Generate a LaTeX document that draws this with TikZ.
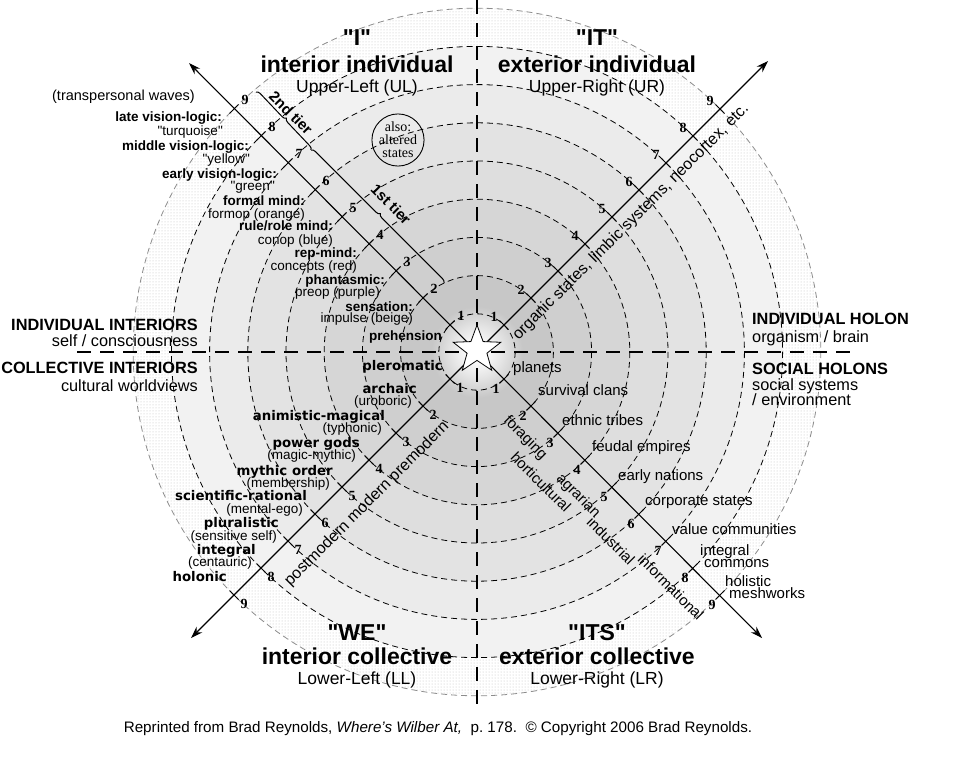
\documentclass[tikz,border=0pt]{standalone}
\usepackage{fontspec}
\setmainfont{Liberation Sans}[Ligatures=TeXOff]
\newfontfamily\serifnum{Liberation Serif}
\newfontfamily\dvs{DejaVu Sans}
\usetikzlibrary{arrows.meta,shapes.geometric,decorations.pathreplacing,patterns}
\newcommand\fsz[1]{\fontsize{#1}{#1}\selectfont}
\pgfdeclareradialshading{glow}{\pgfpoint{0bp}{0bp}}{color(0bp)=(white);color(3bp)=(white);color(12bp)=(black!10);color(22bp)=(black!22);color(50bp)=(black!22)}
\tikzset{
  ul/.style={inner sep=0pt, anchor=east, font=\fsz{13.5}, text height=9.7pt, text depth=2.7pt},
  ulb/.style={ul, font=\bfseries\fsz{13.5}},
  llb/.style={ul, font=\dvs\bfseries\fsz{13.3}},
  lr/.style={inner sep=0pt, anchor=west, font=\fsz{15}, text height=10.8pt, text depth=3pt},
  hdr/.style={inner sep=0pt, font=\bfseries\fsz{16.3}, text height=11.7pt, text depth=3.3pt},
  hsub/.style={inner sep=0pt, font=\fsz{16.3}, text height=11.7pt, text depth=3.3pt},
  ttl/.style={inner sep=0pt, font=\bfseries\fsz{23}},
  quad/.style={inner sep=0pt, font=\fsz{17.5}},
  num/.style={inner sep=0pt, font=\serifnum\bfseries\fsz{14}},
  rot/.style={inner sep=0pt, font=\fsz{16}},
  rotb/.style={inner sep=0pt, font=\fsz{15}},
  tierlab/.style={inner sep=0pt, font=\bfseries\fsz{15}, rotate=-45},
  ringd/.style={dash pattern=on 6pt off 4pt, line width=0.8pt},
  crossd/.style={dash pattern=on 14pt off 9pt, line width=2.2pt},
  axisl/.style={line width=1.1pt, -{Stealth[length=12pt,width=8pt]}},
  tickm/.style={line width=1pt},
  bracel/.style={decorate, decoration={brace, amplitude=4pt}, line width=1pt}
}
\begin{document}
\begin{tikzpicture}[x=1pt,y=-1pt]
\useasboundingbox (0,0) rectangle (960,768);
\coordinate (C) at (477,352);
% rings
\fill[white] (C) circle (343.8);
\fill[pattern=dots, pattern color=black!25] (C) circle (343.8);
\foreach \r/\s in {305.6/5,267.4/8,229.2/11,191/13,152.8/16,114.6/19,76.4/22}
  {\fill[black!\s] (C) circle (\r);}
\shade[shading=glow] (C) circle (52);
\foreach \k in {1,...,8} {\draw[ringd] (C) circle ({38.2*\k});}
\draw[ringd, black!45] (C) circle (343.8);
% cross lines
\coordinate (vt) at (477,0);
\coordinate (vb) at (477,705);
\coordinate (hl) at (77,352);
\coordinate (hr) at (853,352);
\draw[crossd] (vt) -- (vb);
\draw[crossd] (hl) -- (hr);
% axes
\coordinate (ULtip) at (189,63);
\coordinate (URtip) at (768,61);
\coordinate (LLtip) at (191,638);
\coordinate (LRtip) at (762,638);
\draw[axisl] (C) -- (ULtip);
\draw[axisl] (C) -- (URtip);
\draw[axisl] (C) -- (LLtip);
\draw[axisl] (C) -- (LRtip);
% ticks and numbers
\foreach \k in {1,...,9} {
  \coordinate (tUL\k) at ({477-27*\k},{352-27*\k});
  \coordinate (tUR\k) at ({477+27*\k},{352-27*\k});
  \coordinate (tLL\k) at ({477-27*\k},{352+27*\k});
  \coordinate (tLR\k) at ({477+27*\k},{352+27*\k});
  \draw[tickm] ([shift={(4.5,-4.5)}]tUL\k) -- ([shift={(-4.5,4.5)}]tUL\k);
  \draw[tickm] ([shift={(4.5,4.5)}]tUR\k) -- ([shift={(-4.5,-4.5)}]tUR\k);
  \draw[tickm] ([shift={(4.5,4.5)}]tLL\k) -- ([shift={(-4.5,-4.5)}]tLL\k);
  \draw[tickm] ([shift={(4.5,-4.5)}]tLR\k) -- ([shift={(-4.5,4.5)}]tLR\k);
  \node[num] (nUL\k) at ([shift={(11,-9)}]tUL\k) {\k};
  \node[num] (nUR\k) at ([shift={(-10,-8)}]tUR\k) {\k};
  \node[num] (nLL\k) at ([shift={(10,9)}]tLL\k) {\k};
  \node[num] (nLR\k) at ([shift={(-8,10)}]tLR\k) {\k};
}
% star
\node[star, star points=5, star point ratio=2.4, minimum size=50pt, inner sep=0pt, fill=white, draw, line width=0.8pt] (star) at (477,350) {};
% tier braces
\coordinate (tierA) at (256,92);
\coordinate (tierB) at (311,150);
\coordinate (tierC) at (444,283);
\draw[bracel] (tierA) -- (tierB);
\draw[bracel] (tierB) -- (tierC);
\node[tierlab] (t2) at (291,113) {2nd tier};
\node[tierlab] (t1) at (391,204) {1st tier};
\node[circle, draw, line width=0.9pt, minimum size=50pt, inner sep=0pt, align=center, font=\serifnum\fontsize{14}{13}\selectfont] (alt) at (398,140) {also:\\altered\\states};
% titles
\node[ttl] (tI) at (357,38) {"I"};
\node[ttl] (tIi) at (357,64) {interior individual};
\node[quad] (tUL) at (357,88) {Upper-Left (UL)};
\node[ttl] (tIT) at (597,38) {"IT"};
\node[ttl] (tITe) at (597,64) {exterior individual};
\node[quad] (tUR) at (597,88) {Upper-Right (UR)};
\node[ttl] (tWE) at (357,633) {"WE"};
\node[ttl] (tWEi) at (357,656) {interior collective};
\node[quad] (tLL) at (357,680) {Lower-Left (LL)};
\node[ttl] (tITS) at (597,633) {"ITS"};
\node[ttl] (tITSe) at (597,656) {exterior collective};
\node[quad] (tLR) at (597,680) {Lower-Right (LR)};
% side headers
\node[hdr, anchor=east] (indint) at (198,326) {INDIVIDUAL INTERIORS};
\node[hsub, anchor=east] (selfc) at (198,342) {self / consciousness};
\node[hdr, anchor=east] (colint) at (198,369) {COLLECTIVE INTERIORS};
\node[hsub, anchor=east] (cultw) at (198,387) {cultural worldviews};
\node[hdr, anchor=west] (indhol) at (752,320) {INDIVIDUAL HOLON};
\node[hsub, anchor=west] (organ) at (752,338) {organism / brain};
\node[hdr, anchor=west] (sochol) at (752,370) {SOCIAL HOLONS};
\node[hsub, anchor=west] (socsys) at (752,386) {social systems};
\node[hsub, anchor=west] (envir) at (752,401) {/ environment};
% UL labels
\node[ul, font=\fsz{14.5}] (trans) at (195,97) {(transpersonal waves)};
\node[ulb] (lvl) at (222,118) {late vision-logic:};
\node[ul] (turq) at (223,132) {"turquoise"};
\node[ulb] (mvl) at (249,147) {middle vision-logic:};
\node[ul] (yell) at (250,160) {"yellow"};
\node[ulb] (evl) at (277,175) {early vision-logic:};
\node[ul] (gree) at (275,187) {"green"};
\node[ulb] (form) at (305,202) {formal mind:};
\node[ul] (formop) at (305,215) {formop (orange)};
\node[ulb] (rule) at (333,227) {rule/role mind:};
\node[ul] (conop) at (333,241) {conop (blue)};
\node[ulb] (rep) at (357,254) {rep-mind:};
\node[ul] (conc) at (357,267) {concepts (red)};
\node[ulb] (phan) at (385,281) {phantasmic:};
\node[ul] (preop) at (380,293) {preop (purple)};
\node[ulb] (sens) at (413,308) {sensation:};
\node[ul] (impu) at (413,319) {impulse (beige)};
\node[ulb] (preh) at (442,337) {prehension};
% LL labels
\node[llb] (pler) at (443,367) {pleromatic};
\node[llb] (arch) at (417,390) {archaic};
\node[ul] (urob) at (412,402) {(uroboric)};
\node[llb] (anim) at (385,417) {animistic-magical};
\node[ul] (typh) at (382,429) {(typhonic)};
\node[llb] (powg) at (360,444) {power gods};
\node[ul] (magm) at (356,456) {(magic-mythic)};
\node[llb] (myth) at (333,472) {mythic order};
\node[ul] (memb) at (330,484) {(membership)};
\node[llb] (scie) at (307,497) {scientific-rational};
\node[ul] (ment) at (303,510) {(mental-ego)};
\node[llb] (plur) at (279,524) {pluralistic};
\node[ul] (sens2) at (277,537) {(sensitive self)};
\node[llb] (inte) at (256,551) {integral};
\node[ul] (cent) at (252,563) {(centauric)};
\node[llb] (holo) at (227,578) {holonic};
% LR labels
\node[lr] (plan) at (513,369) {planets};
\node[lr] (surv) at (538,392) {survival clans};
\node[lr] (ethn) at (562,422) {ethnic tribes};
\node[lr] (feud) at (592,448) {feudal empires};
\node[lr] (earl) at (618,477) {early nations};
\node[lr] (corp) at (645,502) {corporate states};
\node[lr] (valu) at (672,531) {value communities};
\node[lr] (intg) at (700,552) {integral};
\node[lr] (comm) at (704,564) {commons};
\node[lr] (holi) at (725,583) {holistic};
\node[lr] (mesh) at (729,595) {meshworks};
% rotated axis texts
\node[rot, rotate=45] (orgtxt) at (631,222) {organic states, limbic systems, neocortex, etc.};
\node[rot, rotate=45] (modtxt) at (367,504) {postmodern modern premodern};
\node[rotb, rotate=-45] (fora) at (525,438) {foraging};
\node[rotb, rotate=-45] (hort) at (541,482) {horticultural};
\node[rotb, rotate=-45] (agra) at (578,496) {agrarian};
\node[rotb, rotate=-45] (indu) at (611,541) {industrial};
\node[rotb, rotate=-45] (info) at (671,587) {informational};
% caption
\node[inner sep=0pt, font=\fsz{15.2}] (cap) at (438,729) {Reprinted from Brad Reynolds, \textit{Where’s Wilber At,}\ \ p.~178.\ \ © Copyright 2006 Brad Reynolds.};
\end{tikzpicture}
\end{document}
